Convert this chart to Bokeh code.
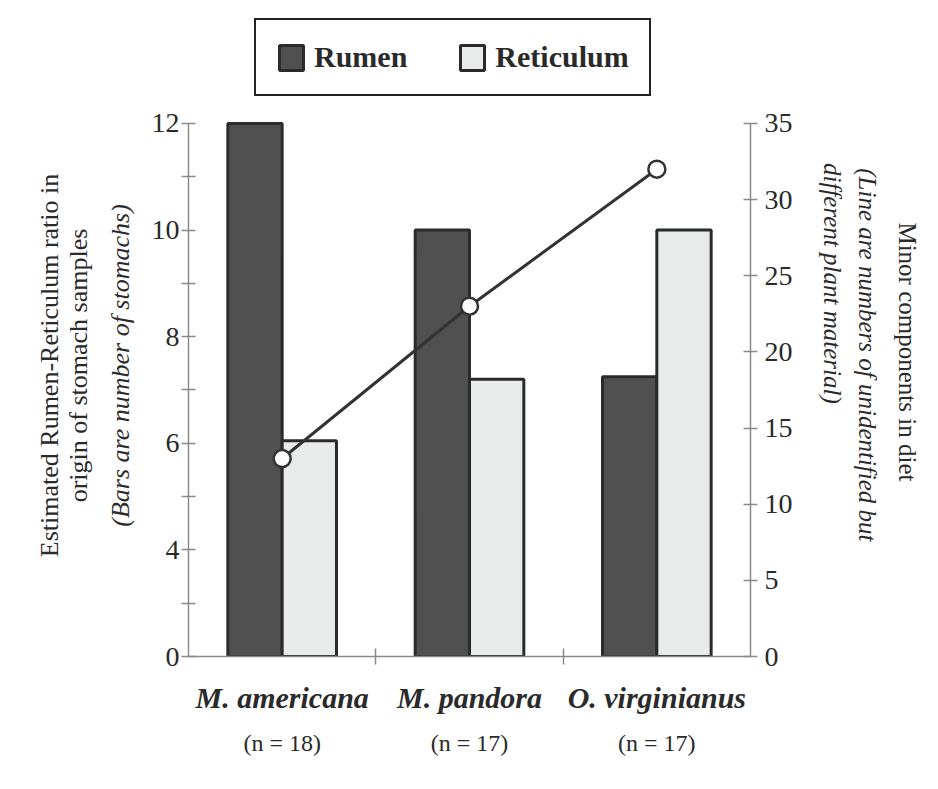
from bokeh.plotting import figure
from bokeh.models import (Range1d, LinearAxis, FixedTicker, Legend, LegendItem,
                          ColumnDataSource)
from bokeh.transform import dodge
from bokeh.embed import file_html
from bokeh.resources import INLINE

# ---- data ----
species = ["M. americana", "M. pandora", "O. virginianus"]
sample_sizes = ["(n = 18)", "(n = 17)", "(n = 17)"]
rumen = [12.0, 10.0, 7.25]
reticulum = [6.05, 7.2, 10.0]
minor_components = [13, 23, 32]
left_ticks = [2, 4, 6, 8, 10, 12]
left_tick_labels = ["0", "4", "6", "8", "10", "12"]
left_minor_ticks = [3, 5, 7, 9, 11]
right_ticks = [0, 5, 10, 15, 20, 25, 30, 35]

FONT = "Liberation Serif"
TXT = "#2a2a2a"
AX = "#8a8a8a"
BASE = left_ticks[0]
HEADROOM = 1.2026  # empty space above the axes, where the legend sits

idx = list(range(len(species)))
src = ColumnDataSource(dict(x=idx, rumen=rumen, reticulum=reticulum,
                            minor=minor_components, base=[BASE] * len(idx)))

y_end = BASE + (left_ticks[-1] - BASE) * HEADROOM
r_end = right_ticks[-1] * HEADROOM

p = figure(width=938, height=789, x_range=Range1d(-0.5, len(species) - 0.5),
           y_range=Range1d(BASE, y_end),
           output_backend="svg", toolbar_location=None,
           min_border_left=188, min_border_right=188,
           min_border_top=15, min_border_bottom=133)
p.outline_line_color = None
p.xgrid.visible = False
p.ygrid.visible = False
p.extra_y_ranges = {"right": Range1d(right_ticks[0], r_end)}


def style_axis(ax, tick_in, tick_out, standoff, size="28px"):
    ax.axis_line_color = AX
    ax.axis_line_width = 1.5
    ax.major_tick_line_color = AX
    ax.minor_tick_line_color = AX
    ax.major_tick_line_width = 1.5
    ax.minor_tick_line_width = 1.5
    ax.major_tick_in = tick_in
    ax.major_tick_out = tick_out
    ax.minor_tick_in = tick_in
    ax.minor_tick_out = tick_out
    ax.major_label_standoff = standoff
    ax.major_label_text_font = FONT
    ax.major_label_text_font_size = size
    ax.major_label_text_color = TXT


# left axis
ya = p.yaxis[0]
ya.ticker = FixedTicker(ticks=left_ticks, minor_ticks=left_minor_ticks)
ya.major_label_overrides = {t: l for t, l in zip(left_ticks, left_tick_labels)}
ya.bounds = (left_ticks[0], left_ticks[-1])
style_axis(ya, 7, 7, 2)

# right axis
ra = LinearAxis(y_range_name="right", ticker=FixedTicker(ticks=right_ticks, minor_ticks=[]),
                bounds=(right_ticks[0], right_ticks[-1]))
style_axis(ra, 7, 7, 7)
p.add_layout(ra, "right")

# bottom axis: separator ticks only
xa = p.xaxis[0]
sep = [i + 0.5 for i in idx[:-1]]
xa.ticker = FixedTicker(ticks=sep, minor_ticks=[])
xa.major_label_overrides = {t: "" for t in sep}
style_axis(xa, 8, 8, 0, "1px")


def label_axis(side, ticks, labels, standoff, style="normal", size="26px",
               rng=None, orientation="horizontal"):
    kw = {"y_range_name": rng} if rng else {}
    ax = LinearAxis(ticker=FixedTicker(ticks=ticks, minor_ticks=[]),
                    major_label_overrides={t: l for t, l in zip(ticks, labels)}, **kw)
    ax.axis_line_color = None
    ax.major_tick_line_color = None
    ax.minor_tick_line_color = None
    ax.major_tick_out = 0
    ax.major_tick_in = 0
    ax.minor_tick_out = 0
    ax.minor_tick_in = 0
    ax.major_label_standoff = standoff
    ax.major_label_orientation = orientation
    ax.major_label_text_font = FONT
    ax.major_label_text_font_style = style
    ax.major_label_text_font_size = size
    ax.major_label_text_color = TXT
    p.add_layout(ax, side)
    return ax


# category names and sample sizes under the groups
label_axis("below", idx, species, 16, "bold italic", "30px")
label_axis("below", idx, sample_sizes, 13, "normal", "24px")

# left title lines (closest to the plot first), centred at 7.46 in left-axis units
LEFT_TITLE_CENTER = 7.46
label_axis("left", [LEFT_TITLE_CENTER], ["(Bars are number of stomachs)"], 13, "italic",
           orientation="vertical")
label_axis("left", [LEFT_TITLE_CENTER], ["origin of stomach samples"], 10,
           orientation="vertical")
label_axis("left", [LEFT_TITLE_CENTER], ["Estimated Rumen-Reticulum ratio in"], -3,
           orientation="vertical")

# right title lines (closest first), centres in right-axis units
label_axis("right", [24.5], ["different plant material)"], 23, "italic", "25px",
           rng="right", orientation="vertical")
label_axis("right", [19.6], ["(Line are numbers of  unidentified but"], 5, "italic", "25px",
           rng="right", orientation="vertical")
label_axis("right", [20.0], ["Minor components in diet"], 10, "normal", "25px",
           rng="right", orientation="vertical")

# bars
r1 = p.vbar(x=dodge("x", -0.145, range=p.x_range), top="rumen", bottom="base", width=0.29,
            source=src, fill_color="#505050", line_color="#2b2b2b", line_width=3)
r2 = p.vbar(x=dodge("x", 0.145, range=p.x_range), top="reticulum", bottom="base", width=0.29,
            source=src, fill_color="#e9ebeb", line_color="#2b2b2b", line_width=3)

# line
p.line(x="x", y="minor", source=src, y_range_name="right", line_color="#333333", line_width=3)
p.scatter(x="x", y="minor", source=src, y_range_name="right", size=17, marker="circle",
          fill_color="white", line_color="#333333", line_width=2.5)

# legend (in the empty band above the axes)
leg = Legend(items=[LegendItem(label="Rumen", renderers=[r1]),
                    LegendItem(label="Reticulum", renderers=[r2])],
             orientation="horizontal", location=(66, 560))
leg.label_text_font = FONT
leg.label_text_font_style = "bold"
leg.label_text_font_size = "30px"
leg.label_text_color = TXT
leg.glyph_width = 30
leg.glyph_height = 31
leg.label_standoff = 8
leg.spacing = 50
leg.padding = 20
leg.margin = 0
leg.border_line_color = "#222222"
leg.border_line_alpha = 1
leg.border_line_width = 2.5
leg.background_fill_color = "white"
leg.background_fill_alpha = 1
p.add_layout(leg, "center")

open("out.html", "w").write(file_html(p, INLINE))
